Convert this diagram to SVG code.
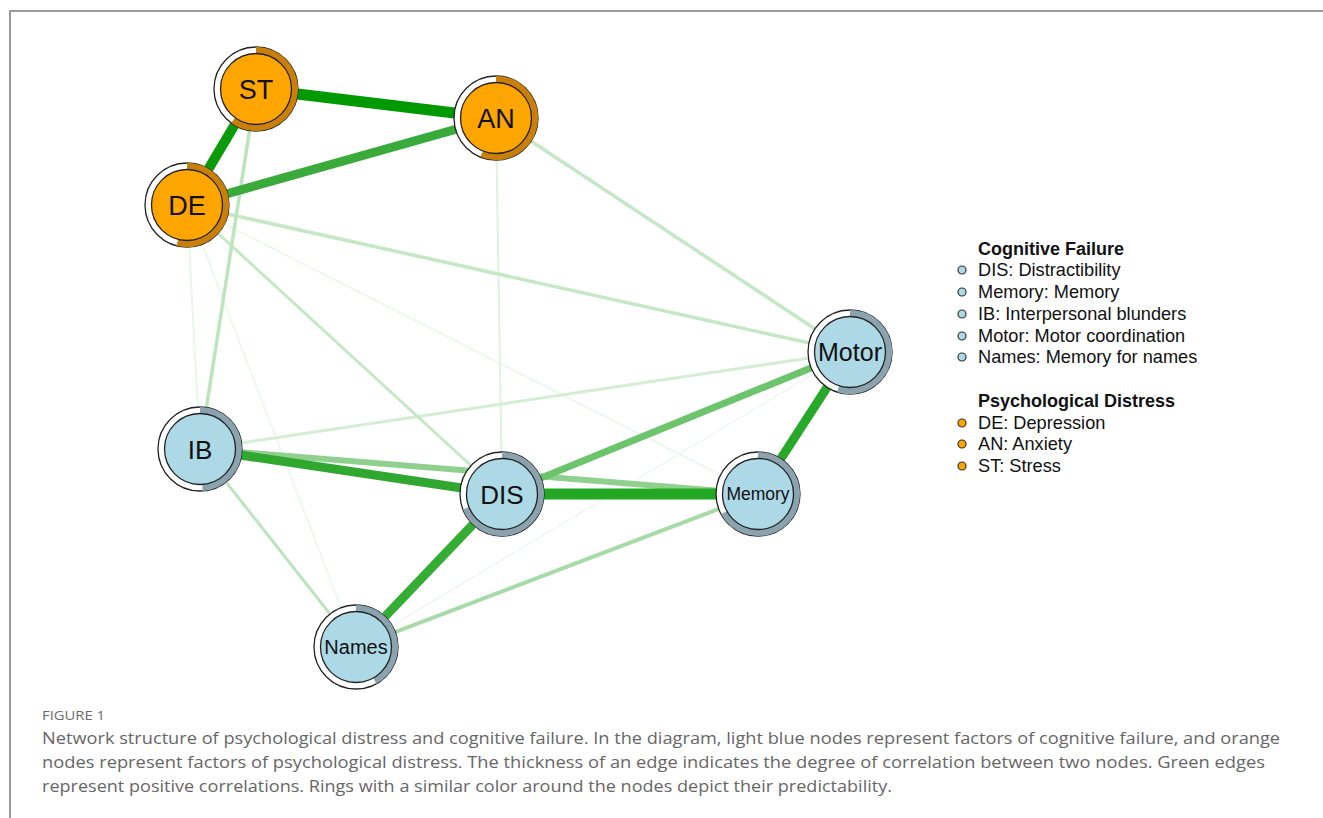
<svg xmlns="http://www.w3.org/2000/svg" width="1323" height="818" viewBox="0 0 1323 818">
<style>
.frame{fill:none;stroke:#7a7a7a;stroke-width:1.5}
.e{fill:none;stroke-linecap:butt}
.outer{fill:#fff;stroke:#222;stroke-width:1.3}
.inner{stroke:#222;stroke-width:1.3}
.pd .inner{fill:#ffa500}
.cf .inner{fill:#add8e6}
.pd .ring{stroke:#c8800a}
.cf .ring{stroke:#8aa3ae}
.ring{fill:none;stroke-width:6.5}
.lbl{font-family:"Liberation Sans",Arial,sans-serif;fill:#111;text-anchor:middle}
.lg{font-family:"Liberation Sans",Arial,sans-serif;font-size:18.2px;fill:#111}
.lgh{font-weight:bold;font-size:18px}
.b1{fill:#add8e6;stroke:#333;stroke-width:1.2}
.b2{fill:#ffa500;stroke:#333;stroke-width:1.2}
.cap{font-family:"Open Sans","Liberation Sans",Arial,sans-serif;fill:#666;font-size:17px}
.fig{font-family:"Open Sans","Liberation Sans",Arial,sans-serif;fill:#6a6a6a;font-size:12.5px}
</style>
<path class="frame" d="M10,818 V11 H1323"/>
<g id="connectors">
<line class="e" x1="850" y1="352" x2="356" y2="647" stroke="#eef8ee" stroke-width="1.5"/>
<line class="e" x1="187" y1="205" x2="758" y2="494" stroke="#eef8ee" stroke-width="2"/>
<line class="e" x1="187" y1="205" x2="356" y2="647" stroke="#eef8ee" stroke-width="2"/>
<line class="e" x1="187" y1="205" x2="200" y2="449" stroke="#eaf6ea" stroke-width="2"/>
<line class="e" x1="496" y1="118" x2="502" y2="494" stroke="#e0f2e0" stroke-width="2"/>
<line class="e" x1="200" y1="449" x2="850" y2="352" stroke="#d3eed3" stroke-width="3"/>
<line class="e" x1="187" y1="205" x2="502" y2="494" stroke="#c4e8c4" stroke-width="3"/>
<line class="e" x1="496" y1="118" x2="850" y2="352" stroke="#c4e8c4" stroke-width="3.5"/>
<line class="e" x1="187" y1="205" x2="850" y2="352" stroke="#c4e8c4" stroke-width="3.5"/>
<line class="e" x1="256" y1="89" x2="200" y2="449" stroke="#bde5bd" stroke-width="3.5"/>
<line class="e" x1="200" y1="449" x2="356" y2="647" stroke="#bde5bd" stroke-width="3"/>
<line class="e" x1="356" y1="647" x2="758" y2="494" stroke="#a6dba6" stroke-width="4"/>
<line class="e" x1="200" y1="449" x2="758" y2="494" stroke="#8fd08f" stroke-width="6"/>
<line class="e" x1="502" y1="494" x2="850" y2="352" stroke="#6cc46c" stroke-width="7"/>
<line class="e" x1="758" y1="494" x2="850" y2="352" stroke="#28a828" stroke-width="9"/>
<line class="e" x1="502" y1="494" x2="356" y2="647" stroke="#35ad35" stroke-width="9"/>
<line class="e" x1="200" y1="449" x2="502" y2="494" stroke="#30a830" stroke-width="9"/>
<line class="e" x1="502" y1="494" x2="758" y2="494" stroke="#22a822" stroke-width="11"/>
<line class="e" x1="187" y1="205" x2="496" y2="118" stroke="#3aab3a" stroke-width="9"/>
<line class="e" x1="256" y1="89" x2="187" y2="205" stroke="#0a9a0a" stroke-width="10"/>
<line class="e" x1="256" y1="89" x2="496" y2="118" stroke="#009a00" stroke-width="11"/>
</g>
<g id="node-ST" class="pd" transform="translate(256,89)">
<circle class="outer" r="42"/><path class="ring" d="M0,-38.75 A38.75,38.75 0 1 1 -22.78,31.35"/>
<circle class="inner" r="35.5"/><text class="lbl" y="9.5" font-size="27">ST</text></g>
<g id="node-AN" class="pd" transform="translate(496,118)">
<circle class="outer" r="42"/><path class="ring" d="M0,-38.75 A38.75,38.75 0 1 1 -14.26,36.03"/>
<circle class="inner" r="35.5"/><text class="lbl" y="9.5" font-size="27">AN</text></g>
<g id="node-DE" class="pd" transform="translate(187,205)">
<circle class="outer" r="42"/><path class="ring" d="M0,-38.75 A38.75,38.75 0 1 1 -9.64,37.53"/>
<circle class="inner" r="35.5"/><text class="lbl" y="9.5" font-size="27">DE</text></g>
<g id="node-IB" class="cf" transform="translate(200,449)">
<circle class="outer" r="42"/><path class="ring" d="M0,-38.75 A38.75,38.75 0 0 1 2.43,38.67"/>
<circle class="inner" r="35.5"/><text class="lbl" y="9.5" font-size="26">IB</text></g>
<g id="node-DIS" class="cf" transform="translate(502,494)">
<circle class="outer" r="42"/><path class="ring" d="M0,-38.75 A38.75,38.75 0 1 1 -36.03,14.26"/>
<circle class="inner" r="35.5"/><text class="lbl" y="9.5" font-size="26">DIS</text></g>
<g id="node-Names" class="cf" transform="translate(356,647)">
<circle class="outer" r="42"/><path class="ring" d="M0,-38.75 A38.75,38.75 0 0 1 18.67,33.96"/>
<circle class="inner" r="35.5"/><text class="lbl" y="7.3" font-size="20">Names</text></g>
<g id="node-Motor" class="cf" transform="translate(850,352)">
<circle class="outer" r="42"/><path class="ring" d="M0,-38.75 A38.75,38.75 0 1 1 -11.97,36.85"/>
<circle class="inner" r="35.5"/><text class="lbl" y="9" font-size="25">Motor</text></g>
<g id="node-Memory" class="cf" transform="translate(758,494)">
<circle class="outer" r="42"/><path class="ring" d="M0,-38.75 A38.75,38.75 0 1 1 -33.96,18.67"/>
<circle class="inner" r="35.5"/><text class="lbl" y="6.3" font-size="17.5">Memory</text></g>
<g id="legend">
<text class="lg lgh" x="978" y="255">Cognitive Failure</text>
<circle class="b1" cx="962" cy="270" r="4"/><text class="lg" x="978" y="276">DIS: Distractibility</text>
<circle class="b1" cx="962" cy="292" r="4"/><text class="lg" x="978" y="298">Memory: Memory</text>
<circle class="b1" cx="962" cy="314" r="4"/><text class="lg" x="978" y="320">IB: Interpersonal blunders</text>
<circle class="b1" cx="962" cy="336" r="4"/><text class="lg" x="978" y="342">Motor: Motor coordination</text>
<circle class="b1" cx="962" cy="357" r="4"/><text class="lg" x="978" y="363">Names: Memory for names</text>
<text class="lg lgh" x="978" y="407">Psychological Distress</text>
<circle class="b2" cx="962" cy="423" r="4"/><text class="lg" x="978" y="429">DE: Depression</text>
<circle class="b2" cx="962" cy="444" r="4"/><text class="lg" x="978" y="450">AN: Anxiety</text>
<circle class="b2" cx="962" cy="466" r="4"/><text class="lg" x="978" y="472">ST: Stress</text>
</g>
<g id="caption">
<text class="fig" x="42" y="720" textLength="63" lengthAdjust="spacingAndGlyphs">FIGURE 1</text>
<text class="cap" x="42" y="744" textLength="1238" lengthAdjust="spacingAndGlyphs">Network structure of psychological distress and cognitive failure. In the diagram, light blue nodes represent factors of cognitive failure, and orange</text>
<text class="cap" x="42" y="768" textLength="1223" lengthAdjust="spacingAndGlyphs">nodes represent factors of psychological distress. The thickness of an edge indicates the degree of correlation between two nodes. Green edges</text>
<text class="cap" x="42" y="792" textLength="850" lengthAdjust="spacingAndGlyphs">represent positive correlations. Rings with a similar color around the nodes depict their predictability.</text>
</g>
</svg>
